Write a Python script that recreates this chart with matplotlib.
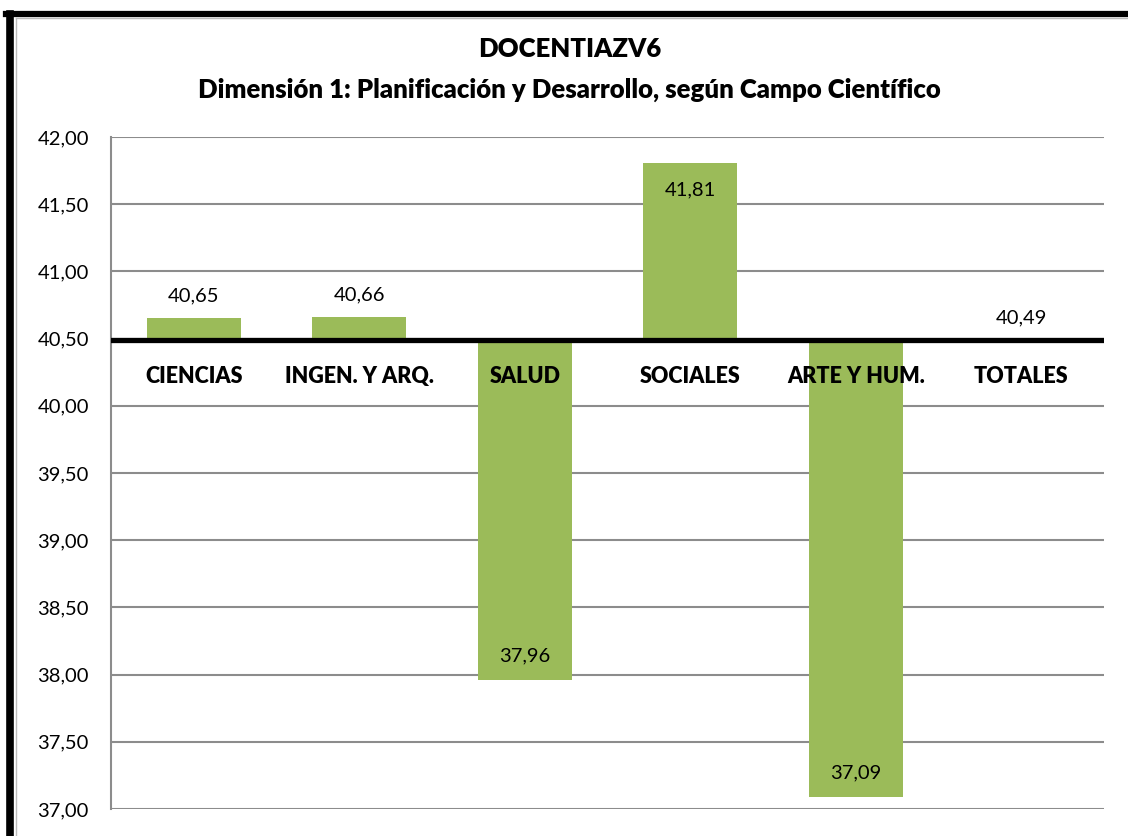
import numpy as np
import matplotlib.pyplot as plt
from matplotlib.ticker import FuncFormatter, MultipleLocator
from matplotlib.lines import Line2D

categorias = ["CIENCIAS", "INGEN. Y ARQ.", "SALUD", "SOCIALES", "ARTE Y HUM.", "TOTALES"]
valores = [40.65, 40.66, 37.96, 41.81, 37.09, 40.49]
base = 40.49

plt.rcParams['font.family'] = ['Lato', 'DejaVu Sans']

fig = plt.figure(figsize=(11.28, 8.36), dpi=100)
ax = fig.add_axes([0.0984, 0.0323, 0.8803, 0.8038])

x = np.arange(len(categorias))
alturas = [v - base for v in valores]
ax.bar(x, alturas, bottom=base, width=0.57, color="#9BBB59", zorder=2)

ax.set_xlim(-0.5, 5.5)
ax.set_ylim(37, 42)
ax.yaxis.set_major_locator(MultipleLocator(0.5))
ax.yaxis.set_major_formatter(FuncFormatter(lambda v, p: f"{v:.2f}".replace(".", ",")))
ax.grid(axis="y", color="#8C8C8C", linewidth=1.5, zorder=0)
ax.set_axisbelow(True)
ax.set_xticks([])
ax.tick_params(axis="y", length=0, pad=16, labelsize=14.5)
for s in ["top", "right", "bottom"]:
    ax.spines[s].set_visible(False)
ax.spines["left"].set_color("#8C8C8C")
ax.spines["left"].set_linewidth(1.5)

# eje de cruce en el valor total
ax.axhline(base, color="black", linewidth=3.8, zorder=3)

for i, (c, v) in enumerate(zip(categorias, valores)):
    ax.annotate(c, (i, base), xytext=(0, -26), textcoords="offset points",
                ha="center", va="center", fontsize=15.5, fontweight="heavy", zorder=4)
    txt = f"{v:.2f}".replace(".", ",")
    if v >= 41.5:
        off = -20
    elif v < base:
        off = 17
    else:
        off = 16
    ax.annotate(txt, (i, v), xytext=(0, off), textcoords="offset points",
                ha="center", va="center", fontsize=14.5, zorder=4)

fig.text(0.505, 0.941, "DOCENTIAZV6", ha="center", va="center",
         fontsize=18.5, fontweight="heavy")
fig.text(0.505, 0.893, "Dimensión 1: Planificación y Desarrollo, según Campo Científico",
         ha="center", va="center", fontsize=18.5, fontweight="heavy")

# marco exterior
fig.add_artist(Line2D([0.0088, 0.0088], [0, 0.983], transform=fig.transFigure,
                      color="black", linewidth=5.5))
fig.add_artist(Line2D([0.0055, 1], [0.9835, 0.9835], transform=fig.transFigure,
                      color="black", linewidth=4.5))
fig.add_artist(Line2D([0.0138, 0.0138], [0, 0.979], transform=fig.transFigure,
                      color="#BBBBBB", linewidth=1))
fig.add_artist(Line2D([0.0138, 1], [0.979, 0.979], transform=fig.transFigure,
                      color="#BBBBBB", linewidth=1))

fig.savefig("out.png", dpi=100)
